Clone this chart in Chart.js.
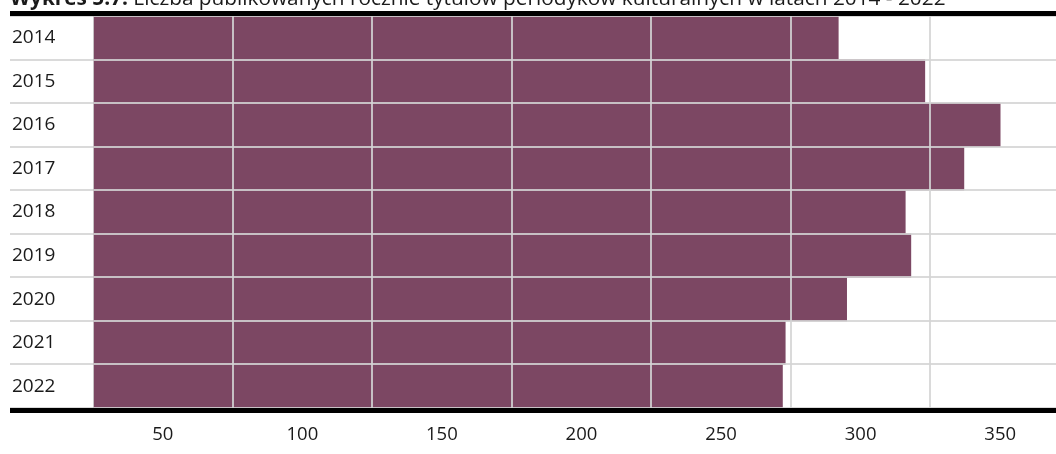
<!DOCTYPE html>
<html lang="pl">
<head>
<meta charset="utf-8">
<script src="https://cdn.jsdelivr.net/npm/chart.js@4"></script>
<style>
    body { margin: 0; background: #fff; }
    #caixa { position: relative; width: 1056px; height: 454px; overflow: hidden; }
    #titulo {
        position: absolute; left: 10px; top: -13px;
        font-family: 'Open Sans', sans-serif; font-size: 20.8px; line-height: 20.8px;
        color: #1a1a1a; white-space: nowrap;
    }
    #grafico { position: absolute; left: 0; top: 0; }
</style>
</head>
<body>
<div id="caixa">
    <canvas id="grafico" width="1056" height="454"></canvas>
    <div id="titulo"><b>Wykres 5.7.</b> Liczba publikowanych rocznie tytułów periodyków kulturalnych w latach 2014 - 2022</div>
</div>
<script>
// Dados
const anos = ['2014', '2015', '2016', '2017', '2018', '2019', '2020', '2021', '2022'];
const tytuly = [292, 323, 350, 337, 316, 318, 295, 273, 272];

// Rótulos do eixo x e posições das linhas de grade
const rotulosX = [50, 100, 150, 200, 250, 300, 350];
const linhasGrade = [75, 125, 175, 225, 275, 325];
const eixoMin = 25;
const eixoMax = 370;

const corBarra = '#7c4763';
const corGrade = 'rgba(212, 212, 212, 0.86)';
const corTexto = '#1a1a1a';
const fonteY = { family: "'Open Sans', sans-serif", size: 19 };
const fonteX = { family: "'Open Sans', sans-serif", size: 18.5 };

// Linhas pretas grossas acima e abaixo da área do gráfico
const linhasPretas = {
    id: 'linhasPretas',
    afterDraw(chart) {
        const { ctx, chartArea } = chart;
        ctx.save();
        ctx.fillStyle = '#000';
        ctx.fillRect(10, chartArea.top - 5, chart.width - 10, 5);
        ctx.fillRect(10, chartArea.bottom, chart.width - 10, 5);
        ctx.restore();
    }
};

const ctx = document.getElementById('grafico').getContext('2d');
const grafico = new Chart(ctx, {
    type: 'bar',
    data: {
        labels: anos,
        datasets: [{
            data: tytuly,
            backgroundColor: corBarra,
            borderWidth: 0,
            barPercentage: 1,
            categoryPercentage: 1
        }]
    },
    options: {
        indexAxis: 'y',
        responsive: false,
        animation: false,
        layout: { padding: { left: 12, top: 16, right: 0, bottom: 0 } },
        plugins: { legend: { display: false }, tooltip: { enabled: false } },
        scales: {
            x: {
                min: eixoMin,
                max: eixoMax,
                afterBuildTicks(scale) {
                    // rótulos nos múltiplos de 50, grade entre eles
                    const valores = rotulosX.concat(linhasGrade).sort((a, b) => a - b);
                    scale.ticks = valores.map(v => ({ value: v }));
                },
                afterFit(scale) { scale.height = 46; },
                grid: {
                    z: 1,
                    drawTicks: false,
                    lineWidth: 2,
                    color: c => (linhasGrade.includes(c.tick && c.tick.value) ? corGrade : 'rgba(0,0,0,0)')
                },
                border: { display: false },
                ticks: {
                    padding: 16,
                    color: corTexto,
                    font: fonteX,
                    maxRotation: 0,
                    autoSkip: false,
                    callback: v => (rotulosX.includes(v) ? String(v) : '')
                }
            },
            y: {
                grid: { z: 1, color: corGrade, lineWidth: 2, offset: true, tickLength: 83 },
                border: { z: 1, color: corGrade, width: 1 },
                ticks: { crossAlign: 'far', color: corTexto, font: fonteY },
                afterFit(scale) {
                    scale.width = 81;
                    scale.paddingTop = 0;
                    scale.paddingBottom = 0;
                }
            }
        }
    },
    plugins: [linhasPretas]
});
</script>
</body>
</html>
